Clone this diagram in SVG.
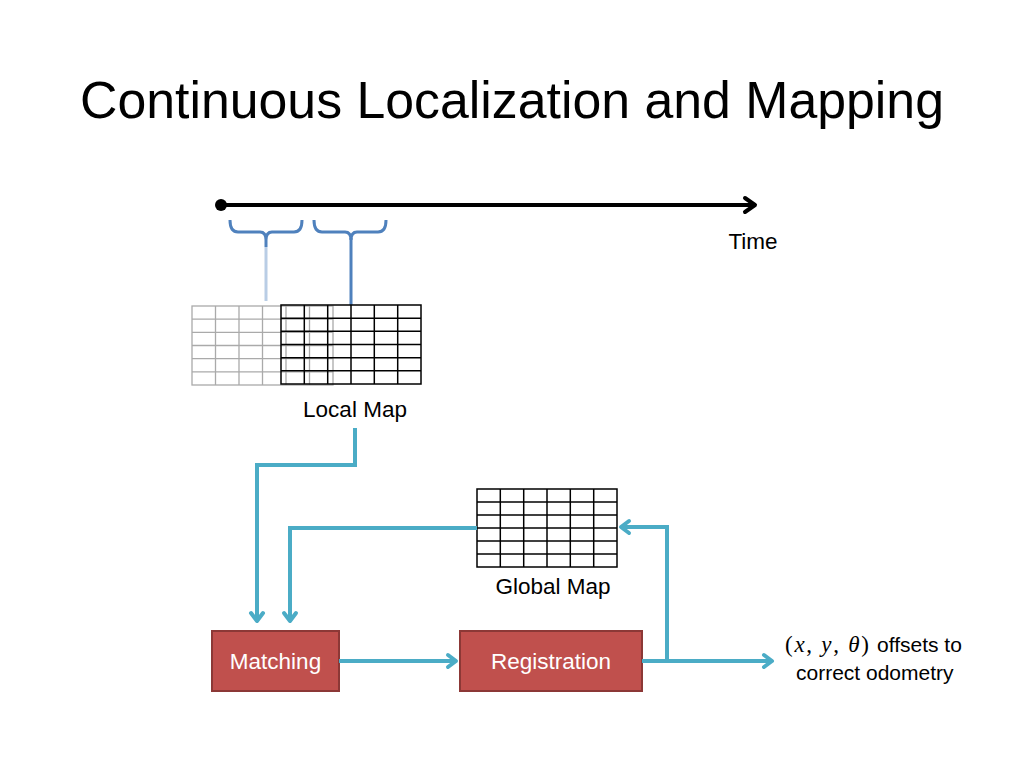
<svg xmlns="http://www.w3.org/2000/svg" width="1024" height="768" viewBox="0 0 1024 768">
<style>
.t{font-family:"Liberation Sans",Arial,sans-serif;fill:#000}
.lbl{font-size:22.5px}
.box{fill:#C0504D;stroke:#8C3836;stroke-width:2}
.btxt{font-family:"Liberation Sans",Arial,sans-serif;font-size:22.5px;fill:#fff;text-anchor:middle}
.conn{fill:none;stroke:#4BACC6;stroke-width:4;stroke-linejoin:miter}
.gridB line,.gridB rect{stroke:#000;stroke-width:1.5;fill:none}
.gridG line,.gridG rect{stroke:#aaa;stroke-width:1.3;fill:none}
.m{font-family:"Liberation Serif",serif;font-size:23px;fill:#000}
</style>
<defs>
<marker id="ah" viewBox="0 0 12 12" refX="9" refY="6" markerWidth="12" markerHeight="12" markerUnits="userSpaceOnUse" orient="auto" overflow="visible">
<path d="M1,0 L9,6 L1,12" fill="none" stroke="#4BACC6" stroke-width="4" stroke-linecap="round" stroke-linejoin="round"/>
</marker>
<marker id="ahk" viewBox="0 0 12 12" refX="9" refY="6" markerWidth="12" markerHeight="12" markerUnits="userSpaceOnUse" orient="auto" overflow="visible">
<path d="M0,-1 L10,6 L0,13" fill="none" stroke="#000" stroke-width="4" stroke-linecap="round" stroke-linejoin="round"/>
</marker>
</defs>
<rect width="1024" height="768" fill="#fff"/>
<text class="t" x="512" y="118" font-size="52" text-anchor="middle" textLength="864" lengthAdjust="spacingAndGlyphs">Continuous Localization and Mapping</text>

<g id="timeline">
<circle cx="221" cy="205" r="6" fill="#000"/>
<line x1="221" y1="205" x2="754" y2="205" stroke="#000" stroke-width="4" marker-end="url(#ahk)"/>
<text class="t lbl" x="753" y="249" text-anchor="middle">Time</text>
</g>

<g id="bracket1">
<path d="M230,220 Q230,232 238,232 L260,232 Q266,232 266,240 L266,247 M266,240 Q266,232 272,232 L294,232 Q302,232 302,220" fill="none" stroke="#4F81BD" stroke-width="3"/>
<line x1="266" y1="247" x2="266" y2="301" stroke="#B9CDE5" stroke-width="3"/>
</g>
<g id="bracket2">
<path d="M314,220 Q314,232 322,232 L345,232 Q351,232 351,240 M351,240 Q351,232 357,232 L378,232 Q386,232 386,220" fill="none" stroke="#4F81BD" stroke-width="3"/>
<line x1="351" y1="238" x2="351" y2="305" stroke="#4F81BD" stroke-width="3"/>
</g>

<g id="localmap">
<g class="gridG">
<rect x="192" y="306" width="141" height="79"/>
<line x1="215.5" y1="306" x2="215.5" y2="385"/><line x1="239" y1="306" x2="239" y2="385"/><line x1="262.5" y1="306" x2="262.5" y2="385"/><line x1="286" y1="306" x2="286" y2="385"/><line x1="309.5" y1="306" x2="309.5" y2="385"/>
<line x1="192" y1="319.2" x2="333" y2="319.2"/><line x1="192" y1="332.3" x2="333" y2="332.3"/><line x1="192" y1="345.5" x2="333" y2="345.5"/><line x1="192" y1="358.7" x2="333" y2="358.7"/><line x1="192" y1="371.8" x2="333" y2="371.8"/>
</g>
<g class="gridB">
<rect x="281" y="305" width="140" height="79"/>
<line x1="304.3" y1="305" x2="304.3" y2="384"/><line x1="327.7" y1="305" x2="327.7" y2="384"/><line x1="351" y1="305" x2="351" y2="384"/><line x1="374.3" y1="305" x2="374.3" y2="384"/><line x1="397.7" y1="305" x2="397.7" y2="384"/>
<line x1="281" y1="318.2" x2="421" y2="318.2"/><line x1="281" y1="331.3" x2="421" y2="331.3"/><line x1="281" y1="344.5" x2="421" y2="344.5"/><line x1="281" y1="357.7" x2="421" y2="357.7"/><line x1="281" y1="370.8" x2="421" y2="370.8"/>
</g>
<text class="t lbl" x="355" y="417" text-anchor="middle">Local Map</text>
</g>

<g id="globalmap">
<g class="gridB">
<rect x="477" y="489" width="140" height="78"/>
<line x1="500.3" y1="489" x2="500.3" y2="567"/><line x1="523.7" y1="489" x2="523.7" y2="567"/><line x1="547" y1="489" x2="547" y2="567"/><line x1="570.3" y1="489" x2="570.3" y2="567"/><line x1="593.7" y1="489" x2="593.7" y2="567"/>
<line x1="477" y1="502" x2="617" y2="502"/><line x1="477" y1="515" x2="617" y2="515"/><line x1="477" y1="528" x2="617" y2="528"/><line x1="477" y1="541" x2="617" y2="541"/><line x1="477" y1="554" x2="617" y2="554"/>
</g>
<text class="t lbl" x="553" y="594" text-anchor="middle">Global Map</text>
</g>

<g id="matching">
<rect class="box" x="212" y="631" width="127" height="60"/>
<text class="btxt" x="275.5" y="669">Matching</text>
</g>
<g id="registration">
<rect class="box" x="460" y="631" width="182" height="60"/>
<text class="btxt" x="551" y="669">Registration</text>
</g>

<g id="output">
<text class="m" x="785" y="652" textLength="84" lengthAdjust="spacing">(<tspan font-style="italic">x</tspan>, <tspan font-style="italic">y</tspan>, <tspan font-style="italic">θ</tspan>)</text>
<text class="t" font-size="21" x="877" y="652">offsets to</text>
<text class="t" font-size="21" x="796" y="680">correct odometry</text>
</g>

<g id="connectors">
<path class="conn" d="M355,428 L355,465 L257,465 L257,621" marker-end="url(#ah)"/>
<path class="conn" d="M477,528 L290,528 L290,621" marker-end="url(#ah)"/>
<path class="conn" d="M339,661 L456,661" marker-end="url(#ah)"/>
<path class="conn" d="M642,661 L772,661" marker-end="url(#ah)"/>
<path class="conn" d="M667,661 L667,527 L621,527" marker-end="url(#ah)"/>
</g>
</svg>
